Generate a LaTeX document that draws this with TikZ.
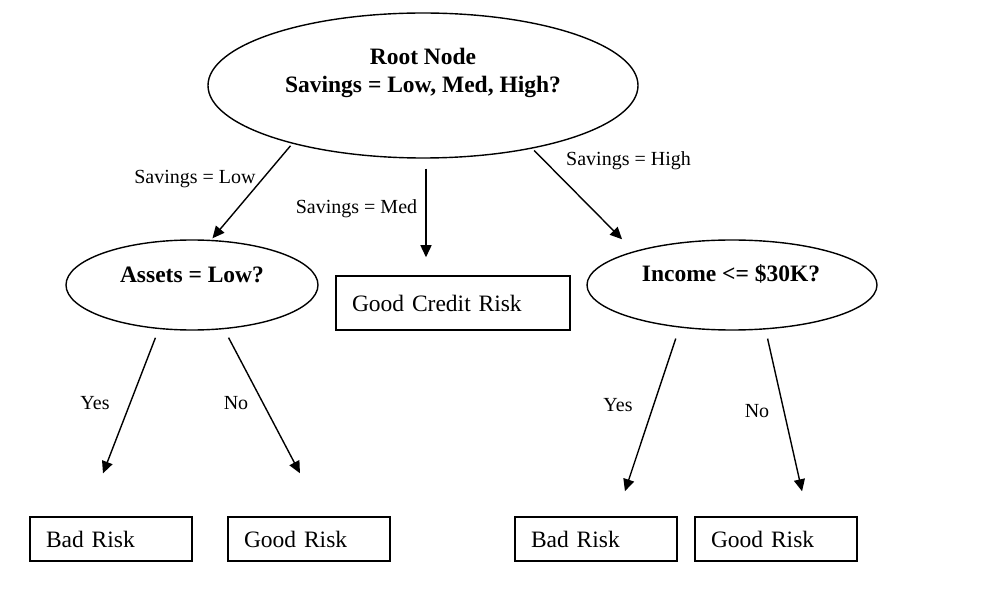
\documentclass[tikz,border=0pt]{standalone}
\usepackage{fontspec}
\setmainfont{Liberation Serif}
\usetikzlibrary{shapes.geometric, positioning, calc, arrows.meta}

\begin{document}
\begin{tikzpicture}[x=1pt, y=-1pt,
    split/.style={draw, ellipse, line width=1.4pt, inner sep=0pt},
    qtext/.style={font=\fontsize{23.5}{28}\selectfont\bfseries, align=center, inner sep=0pt},
    leaf/.style={draw, rectangle, line width=1.5pt, inner xsep=16pt, inner ysep=0pt,
        align=left, text width=130pt, minimum height=44pt, font=\fontsize{23.5}{28}\selectfont},
    edgelbl/.style={font=\fontsize{20}{24}\selectfont, inner sep=0pt},
    arr/.style={-{Triangle[length=12pt, width=11pt]}, line width=1.4pt}]

    \useasboundingbox (0,0) rectangle (998,593);

    % Decision nodes (ellipses) and their questions
    \node[split, minimum width=430pt, minimum height=145pt] (root) at (423,85.5) {};
    \node[qtext] (rootq) at (423,73) {Root Node\\Savings = Low, Med, High?};

    \node[split, minimum width=252pt, minimum height=90pt] (assets) at (192,285) {};
    \node[qtext] (assetsq) at (192,275) {Assets = Low?};

    \node[split, minimum width=290pt, minimum height=90pt] (income) at (732,285) {};
    \node[qtext] (incomeq) at (731,274) {Income <= \$30K?};

    % Leaf boxes
    \node[leaf, text width=202pt, minimum height=54pt] (credit) at (453,303) {Good Credit Risk};
    \node[leaf] (badA) at (111,539) {Bad Risk};
    \node[leaf] (goodA) at (309,539) {Good Risk};
    \node[leaf] (badB) at (596,539) {Bad Risk};
    \node[leaf] (goodB) at (776,539) {Good Risk};

    % Branches out of the root
    \draw[arr, shorten <=2.7pt, shorten >=2pt] (root.204) -- (assets.67);
    \coordinate (medtop) at ([xshift=3pt]root.south);
    \draw[arr, shorten <=10pt, shorten >=18pt] (medtop) -- (medtop |- credit.north);
    \draw[arr, shorten <=2.6pt, shorten >=16.8pt] (root.330) -- (income.161);

    \node[edgelbl] (lowlbl) at (195,179) {Savings = Low};
    \node[edgelbl] (medlbl) at (356.5,209) {Savings = Med};
    \node[edgelbl] (highlbl) at (628.5,161) {Savings = High};

    % Branches out of Assets = Low?
    \draw[arr, shorten <=9.3pt, shorten >=46pt] (assets.233) -- ([xshift=-24.6pt]badA.north);
    \draw[arr, shorten <=9.5pt, shorten >=48.6pt] (assets.306) -- ([xshift=13.6pt]goodA.north);
    \node[edgelbl] (yesA) at (95,403) {Yes};
    \node[edgelbl] (noA) at (236,403) {No};

    % Branches out of Income <= $30K?
    \draw[arr, shorten <=11.5pt, shorten >=26.4pt] (income.219) -- ([xshift=20.6pt]badB.north);
    \draw[arr, shorten <=9.4pt, shorten >=25.6pt] (income.307) -- ([xshift=31.7pt]goodB.north);
    \node[edgelbl] (yesB) at (618,405) {Yes};
    \node[edgelbl] (noB) at (757,411) {No};

\end{tikzpicture}
\end{document}
